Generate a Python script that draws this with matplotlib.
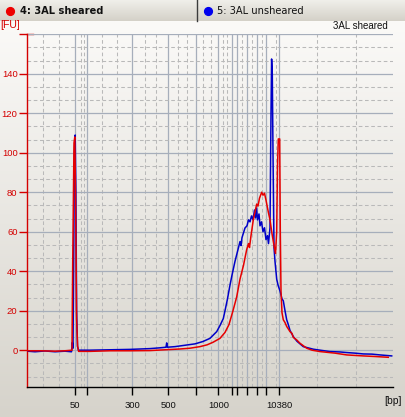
import numpy as np
import matplotlib
matplotlib.use("Agg")
import matplotlib.pyplot as plt
from matplotlib.lines import Line2D

# ---------------- data ----------------
# ladder (bp) and their migration positions on the x axis
ladder_bp = [50, 100, 300, 500, 700, 1000, 1500, 2000, 3000, 4000, 7000, 10380]
ladder_pos = [75.0, 87.3, 132.3, 168.3, 196.3, 218.3, 232.3, 237.3, 247.5, 257.5, 266.3, 279.3]
labeled_bp = [50, 300, 500, 1000, 10380]
minor_pos = [43.3, 59.3, 80.7, 83.7, 102.3, 117.3, 144.8, 155.8, 177.8, 186.8,
             203.3, 210.7, 222.7, 226.7, 241.7, 251.7, 261.7, 275.7, 317.3, 355.7]

# sample 4: 3AL sheared (red)
sheared_x = [27.3, 40, 55, 65, 72, 72.7, 74.0, 74.8, 75.6, 76.6, 77.6, 78.6, 90, 110,
             130, 150, 165, 180, 190, 200, 207, 213, 220, 225, 229, 233, 236.7, 240,
             243.5, 246.7, 248.5, 249.5, 251, 253.3, 255, 256.7, 258, 259.5, 261.7,
             263, 264.5, 266, 268.3, 270, 272, 274, 275.5, 276.7, 277.5, 278.3, 279.7,
             280.3, 281, 282, 283.3, 285, 286.7, 288, 290, 292, 293.3, 296.7, 300,
             306.7, 312, 320, 335, 346.7, 363, 375, 388.3]
sheared_fu = [-0.3, -0.3, -0.5, -0.3, 0, 43.8, 105, 108, 76, 16, 2, -0.6, -0.6, -0.3,
              -0.3, -0.2, 0.2, 0.6, 1.0, 1.8, 2.7, 4, 6, 9, 13, 20, 27, 36,
              43, 51, 54, 52, 58, 66, 70, 74, 73, 77, 80,
              78.5, 79.5, 76, 70, 66, 59, 53, 49, 60, 93, 107, 107,
              60, 30, 19, 15.4, 14, 12, 11, 9.4, 8.5, 6.5, 5.2, 3.5,
              1, 0, -0.7, -1.5, -2.4, -2.9, -3.2, -3.6]

# sample 5: 3AL unsheared (blue)
unsheared_x = [27.3, 35, 45, 55, 65, 71.5, 72.3, 73, 73.6, 74.4, 75.2, 75.9, 76.6, 77.5,
               78.5, 90, 110, 130, 150, 160, 166, 166.7, 167.4, 175, 185, 195, 203,
               210, 216.7, 220, 223.3, 225, 227.3, 230, 232, 235, 237.5, 240, 241, 242,
               245, 247, 248.5, 250, 251.5, 253, 254.5, 255.5, 256.5, 257.5, 259, 260,
               261.5, 263, 264.5, 266, 267.5, 268.5, 270, 271, 271.6, 272.3, 273, 274,
               275, 276.7, 278, 280, 282, 283.3, 285, 286.7, 288.3, 290, 293.3, 297,
               303.3, 313.3, 320, 330, 340, 346.7, 355, 363.3, 372, 380, 391.7]
unsheared_fu = [-0.5, -0.8, -0.4, -0.8, -0.5, -0.8, 3.9, 1, 40, 100, 109, 80, 20, 2,
                0, 0, 0.2, 0.4, 0.8, 1.2, 1.5, 3.7, 1.5, 1.8, 2.5, 3.2, 4.4,
                6, 9.4, 12.5, 16, 20, 25.5, 33, 38, 45, 50, 55, 53, 57,
                61.9, 63, 66, 65, 68, 66, 71, 67, 72, 66, 69, 63,
                65, 60, 62, 56, 58, 54, 62, 120, 147.5, 140, 100, 52,
                45, 36, 33, 30, 26, 25, 20, 15.4, 13, 10, 6.9, 4.5,
                1.8, 0.5, 0, -0.7, -0.9, -1.2, -1.5, -1.9, -2, -2.4, -2.9]

y_major = [0, 20, 40, 60, 80, 100, 120, 140, 160]
y_labels = ["0", "20", "40", "60", "80", "100", "120", "140", ""]

# ---------------- figure ----------------
W, H = 406, 417
fig = plt.figure(figsize=(W / 100, H / 100), dpi=100)
SANS = "Liberation Sans"

def px(x, y):
    return x / W, 1 - y / H

# background gradient
bg = fig.add_axes([0, 0, 1, 1], zorder=-10)
grad = np.linspace(0, 1, 256).reshape(-1, 1)
top_c = np.array([251, 250, 248]) / 255
bot_c = np.array([214, 211, 203]) / 255
img = top_c[None, None, :] * (1 - grad[:, :, None]) + bot_c[None, None, :] * grad[:, :, None]
bg.imshow(img, aspect="auto", extent=[0, 1, 0, 1 - 21 / H])
# header band
htop = np.array([240, 239, 234]) / 255
hbot = np.array([212, 209, 200]) / 255
g2 = np.linspace(0, 1, 64).reshape(-1, 1)
himg = htop[None, None, :] * (1 - g2[:, :, None]) + hbot[None, None, :] * g2[:, :, None]
bg.imshow(himg, aspect="auto", extent=[0, 1, 1 - 21 / H, 1])
bg.set_xlim(0, 1)
bg.set_ylim(0, 1)
bg.axis("off")
bg.add_line(Line2D([197 / W, 197 / W], [1 - 21 / H, 1], color="#3c3c3c", lw=1.0))
bg.plot([10 / W], [1 - 11 / H], "o", color="#ee0000", ms=5.6, mec="#ee0000")
bg.plot([208 / W], [1 - 11 / H], "o", color="#0000ee", ms=5.6, mec="#0000ee")
# top (160) tick crossing into the plot
bg.add_line(Line2D([27.3 / W, 33.3 / W], [1 - 34.3 / H, 1 - 34.3 / H], color="#d40000", lw=1.0))

fig.text(*px(20, 11.5), "4: 3AL sheared", fontsize=7.1, fontweight="bold",
         family="DejaVu Sans", va="center", ha="left", color="#111111")
fig.text(*px(217, 11.5), "5: 3AL unsheared", fontsize=7.1,
         family="DejaVu Sans", va="center", ha="left", color="#111111")

# main axes
x0, x1 = 27.3, 392.7
y_top, y_bot = 34.3, 387.3
ax = fig.add_axes([x0 / W, (H - y_bot) / H, (x1 - x0) / W, (y_bot - y_top) / H])
ax.set_facecolor("none")
ax.set_xlim(27.3, 392.7)
ax.set_ylim(-18.8, 160)

# grid
ax.set_xticks(ladder_pos)
ax.set_xticklabels([str(b) if b in labeled_bp else "" for b in ladder_bp], family=SANS)
ax.set_xticks(minor_pos, minor=True)
y_minor = [v for k in range(-1, 8) for v in (20 * k + 20 / 3, 20 * k + 40 / 3)]
y_minor = [v for v in y_minor if -18.8 < v < 160]
ax.set_yticks(y_major)
ax.set_yticklabels(y_labels, family=SANS)
ax.set_yticks(y_minor, minor=True)
ax.grid(True, which="major", color="#a6aebb", lw=0.9, zorder=0)
ax.grid(True, which="minor", color="#b9b9b9", lw=0.75, ls=(0, (3.5, 2.5)), zorder=0)
ax.set_axisbelow(True)

ax.tick_params(axis="x", which="major", direction="out", length=6, width=1,
               color="black", labelsize=6.8, pad=4, labelcolor="#111111")
ax.tick_params(axis="y", which="major", direction="out", length=6, width=1,
               color="#d40000", labelsize=6.8, pad=1, labelcolor="#d40000")
ax.tick_params(which="minor", length=0)

for s in ("top", "right"):
    ax.spines[s].set_visible(False)
ax.spines["left"].set_color("#d40000")
ax.spines["left"].set_linewidth(1.0)
ax.spines["bottom"].set_color("black")
ax.spines["bottom"].set_linewidth(1.0)

# traces
ax.plot(unsheared_x, unsheared_fu, color="#0000c8", lw=1.1, zorder=3)
ax.plot(sheared_x, sheared_fu, color="#e60000", lw=1.1, zorder=4)

# labels
fig.text(*px(0, 25.5), "[FU]", fontsize=7.6, family=SANS, color="#d40000", va="center", ha="left")
fig.text(*px(388, 26), "3AL sheared", fontsize=7.0, family=SANS, color="#111111", va="center", ha="right")
fig.text(*px(392.5, 400.5), "[bp]", fontsize=7.4, family=SANS, color="#111111", va="center", ha="center")

fig.savefig("out.png", dpi=100)
